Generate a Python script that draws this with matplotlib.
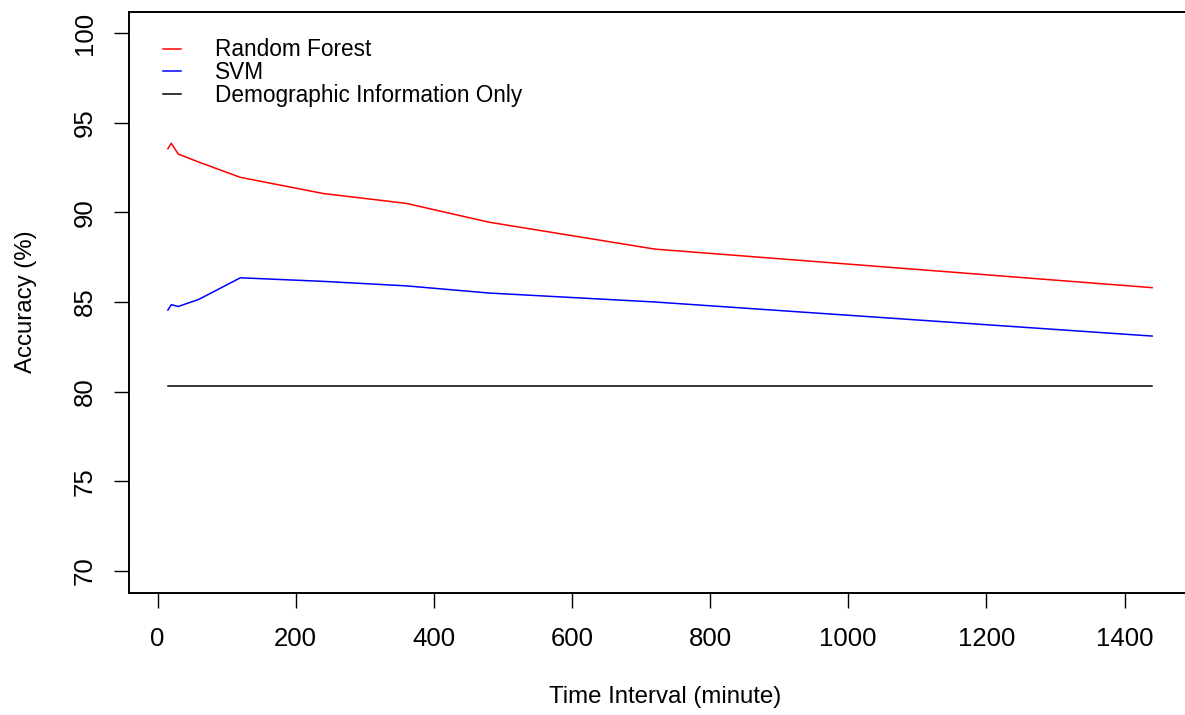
import matplotlib
matplotlib.use("Agg")
import matplotlib.pyplot as plt

plt.rcParams["font.family"] = ["Liberation Sans", "DejaVu Sans"]

# data
interval = [15, 20, 30, 60, 120, 240, 360, 480, 720, 1440]
rf_acc = [93.55, 93.85, 93.25, 92.8, 91.95, 91.05, 90.5, 89.45, 87.95, 85.8]
svm_acc = [84.55, 84.85, 84.75, 85.15, 86.35, 86.15, 85.9, 85.5, 85.0, 83.1]
demo_acc = [80.3] * len(interval)

x_ticks = [0, 200, 400, 600, 800, 1000, 1200, 1400]
y_ticks = [70, 75, 80, 85, 90, 95, 100]

W, H = 1185, 715
fig = plt.figure(figsize=(W / 100, H / 100), dpi=100)

# axes box (R style, extends past the right edge)
left, right, top, bottom = 128.5, 1191.5, 11.5, 592.5
ax = fig.add_axes([left / W, 1 - bottom / H, (right - left) / W, (bottom - top) / H])

ax.plot(interval, rf_acc, color="#FF0000", lw=1.1, label="Random Forest")
ax.plot(interval, svm_acc, color="#0000FF", lw=1.1, label="SVM")
ax.plot(interval, demo_acc, color="black", lw=1.1, label="Demographic Information Only")

xr = interval[-1] - interval[0]
ax.set_xlim(interval[0] - 0.04 * xr, interval[-1] + 0.04 * xr)
ax.set_ylim(70 - 1.2, 100 + 1.2)

ax.set_xticks(x_ticks)
ax.set_yticks(y_ticks)
ax.set_xticklabels([str(v) for v in x_ticks])
ax.set_yticklabels([str(v) for v in y_ticks], rotation=90, va="center")
ax.tick_params(axis="both", direction="out", length=10.8, width=1.0,
               labelsize=18.5, pad=12)
ax.tick_params(axis="x", pad=14)

for s in ax.spines.values():
    s.set_linewidth(1.4)

fig.text(665 / W, 1 - 697 / H, "Time Interval (minute)", fontsize=17.3,
         ha="center", va="center")
fig.text(26 / W, 1 - 302 / H, "Accuracy (%)", fontsize=17.3, rotation=90,
         ha="center", va="center")

ax.legend(loc="upper left", bbox_to_anchor=(163 / W, 1 - 38.5 / H),
          bbox_transform=fig.transFigure, frameon=False, fontsize=16.3,
          handlelength=0.8, handletextpad=1.5, labelspacing=-0.01,
          borderpad=0, borderaxespad=0)

fig.savefig("out.png", dpi=100)
